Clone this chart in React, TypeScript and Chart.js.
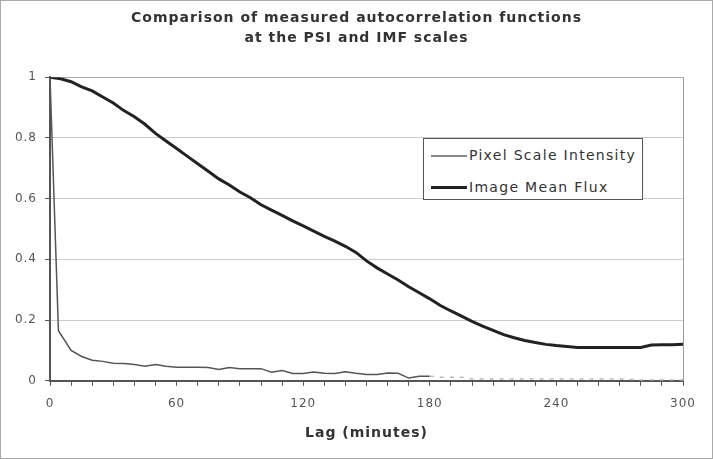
import React, { useEffect, useRef } from "react";
import { Chart, registerables } from "chart.js";

Chart.register(...registerables);

const titleLines = ["Comparison of measured autocorrelation functions", "at the PSI and IMF scales"];
const xTitle = "Lag (minutes)";
const psiLabel = "Pixel Scale Intensity";
const imfLabel = "Image Mean Flux";

const imfLags = [0,5,10,15,20,25,30,35,40,45,50,55,60,65,70,75,80,85,90,95,100,105,110,115,120,125,130,135,140,145,150,155,160,165,170,175,180,185,190,195,200,205,210,215,220,225,230,235,240,245,250,255,260,265,270,275,280,285,290,295,300];
const imfValues = [1.0,0.995,0.985,0.968,0.955,0.935,0.915,0.89,0.87,0.845,0.815,0.79,0.765,0.74,0.715,0.69,0.665,0.645,0.622,0.603,0.58,0.562,0.545,0.527,0.51,0.493,0.476,0.46,0.443,0.423,0.395,0.372,0.352,0.332,0.31,0.29,0.27,0.248,0.23,0.213,0.196,0.18,0.166,0.152,0.142,0.133,0.126,0.12,0.116,0.113,0.11,0.11,0.11,0.11,0.11,0.11,0.11,0.118,0.119,0.119,0.12];

const psiLags = [0,4,10,15,20,25,30,35,40,45,50,55,60,65,70,75,80,85,90,95,100,105,110,115,120,125,130,135,140,145,150,155,160,165,170,175,180,185,190,195,200,210,220,230,240,250,260,270,280,290,300];
const psiValues = [1.0,0.165,0.1,0.08,0.068,0.064,0.058,0.057,0.054,0.048,0.054,0.048,0.045,0.045,0.045,0.044,0.037,0.044,0.04,0.04,0.04,0.028,0.034,0.024,0.024,0.029,0.025,0.024,0.03,0.025,0.021,0.021,0.026,0.025,0.009,0.015,0.015,0.012,0.012,0.012,0.006,0.006,0.006,0.006,0.006,0.006,0.006,0.006,0.003,0.003,0.003];
const psiMeasuredUntil = 180;

const xMin = 0;
const xMax = 300;
const xStep = 10;
const xLabelEvery = 60;
const yMin = 0;
const yMax = 1;
const yStep = 0.2;

const FONT = "'DejaVu Sans', Verdana, sans-serif";

const spacingPlugin = {
  id: "letterSpacing",
  beforeDraw(chart: any) {
    chart.ctx.letterSpacing = "1px";
  },
};

export default function App() {
  const canvasRef = useRef<HTMLCanvasElement | null>(null);

  useEffect(() => {
    document.body.style.margin = "0";
    const canvas = canvasRef.current;
    if (!canvas) return;
    Chart.defaults.font.family = FONT;
    const chart = new Chart(canvas, {
      type: "line",
      plugins: [spacingPlugin],
      data: {
        datasets: [
          {
            label: psiLabel,
            data: psiLags.map((x, i) => ({ x, y: psiValues[i] })),
            borderColor: "#555",
            borderWidth: 1.5,
            pointRadius: 0,
            tension: 0,
            segment: {
              borderColor: (ctx: any) => (ctx.p0.parsed.x >= psiMeasuredUntil ? "#bbb" : undefined),
              borderDash: (ctx: any) => (ctx.p0.parsed.x >= psiMeasuredUntil ? [4, 6] : undefined),
            },
          },
          {
            label: imfLabel,
            data: imfLags.map((x, i) => ({ x, y: imfValues[i] })),
            borderColor: "#222",
            borderWidth: 3,
            pointRadius: 0,
            tension: 0,
          },
        ],
      },
      options: {
        animation: false,
        responsive: false,
        maintainAspectRatio: false,
        layout: { padding: { left: 12, right: 12, top: 0, bottom: 13 } },
        plugins: {
          legend: { display: false },
          tooltip: { enabled: false },
          title: {
            display: true,
            text: titleLines,
            color: "#333",
            font: { family: FONT, size: 14, weight: "bold", lineHeight: 1.4 },
            padding: { top: 9, bottom: 29 },
          },
        },
        scales: {
          x: {
            type: "linear",
            min: xMin,
            max: xMax,
            border: { color: "#555", width: 2 },
            grid: {
              drawOnChartArea: false,
              tickColor: "#555",
              tickLength: 5,
              lineWidth: 1,
            },
            ticks: {
              stepSize: xStep,
              autoSkip: false,
              maxRotation: 0,
              padding: 11,
              color: "#555",
              font: { family: FONT, size: 12 },
              callback: (v: any) => (Number(v) % xLabelEvery === 0 ? String(v) : ""),
            },
            title: {
              display: true,
              text: xTitle,
              color: "#333",
              font: { family: FONT, size: 14, weight: "bold" },
              padding: { top: 3, bottom: 4 },
            },
          },
          y: {
            type: "linear",
            position: "left",
            min: yMin,
            max: yMax,
            afterFit: (scale: any) => {
              scale.width = 38;
            },
            border: { color: "#555", width: 2 },
            grid: {
              color: (ctx: any) =>
                ctx.tick && ctx.tick.value === yMax ? "#aaa" : ctx.tick && ctx.tick.value === yMin ? "rgba(0,0,0,0)" : "#ccc",
              tickColor: "#555",
              tickLength: 5,
            },
            ticks: {
              stepSize: yStep,
              padding: 8,
              color: "#555",
              font: { family: FONT, size: 12 },
              callback: (v: any) => String(Number(Number(v).toFixed(1))),
            },
          },
          y2: {
            type: "linear",
            position: "right",
            min: yMin,
            max: yMax,
            afterFit: (scale: any) => {
              scale.width = 18;
            },
            border: { color: "#999", width: 1 },
            grid: { drawOnChartArea: false, drawTicks: false },
            ticks: { display: false },
          },
        },
      },
    });
    return () => chart.destroy();
  }, []);

  const legendText: React.CSSProperties = {
    fontFamily: FONT,
    fontSize: 14,
    letterSpacing: "1.3px",
    color: "#333",
    lineHeight: "16px",
    whiteSpace: "nowrap",
  };

  return (
    <div style={{ position: "fixed", left: 0, top: 0, width: 713, height: 459, background: "#fff" }}>
      <canvas ref={canvasRef} width={713} height={459} style={{ position: "absolute", left: 0, top: 0, width: 713, height: 459 }} />
      <div
        style={{
          position: "absolute",
          left: 0,
          top: 0,
          width: 713,
          height: 459,
          boxSizing: "border-box",
          border: "1px solid #aaa",
          pointerEvents: "none",
        }}
      />
      <div
        style={{
          position: "absolute",
          left: 423,
          top: 138,
          width: 220,
          height: 62,
          boxSizing: "border-box",
          border: "1px solid #555",
          background: "#fff",
        }}
      >
        <div style={{ position: "absolute", left: 7, top: 16, width: 36, height: 0, borderTop: "2px solid #888" }} />
        <div style={{ ...legendText, position: "absolute", left: 45, top: 8 }}>{psiLabel}</div>
        <div style={{ position: "absolute", left: 7, top: 47, width: 36, height: 0, borderTop: "3px solid #222" }} />
        <div style={{ ...legendText, position: "absolute", left: 45, top: 40 }}>{imfLabel}</div>
      </div>
    </div>
  );
}
